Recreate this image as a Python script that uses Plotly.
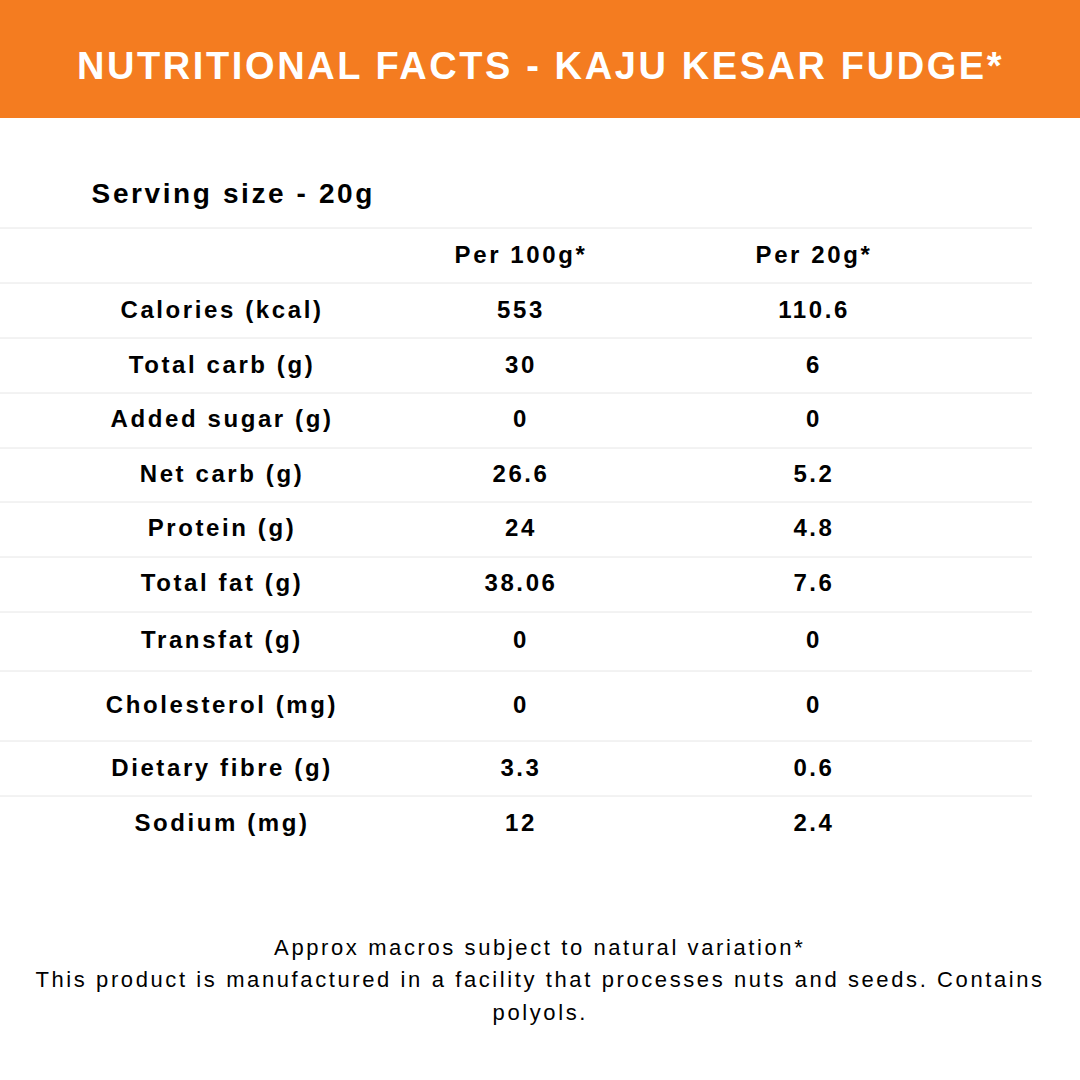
import plotly.graph_objects as go

title = "NUTRITIONAL FACTS - KAJU KESAR FUDGE*"
serving = "Serving size - 20g"
col_heads = ["", "Per 100g*", "Per 20g*"]
nutrients = ["Calories (kcal)", "Total carb (g)", "Added sugar (g)", "Net carb (g)", "Protein (g)",
             "Total fat (g)", "Transfat (g)", "Cholesterol (mg)", "Dietary fibre (g)", "Sodium (mg)"]
per100 = ["553", "30", "0", "26.6", "24", "38.06", "0", "0", "3.3", "12"]
per20 = ["110.6", "6", "0", "5.2", "4.8", "7.6", "0", "0", "0.6", "2.4"]
footer = ["Approx macros subject to natural variation*",
          "This product is manufactured in a facility that processes nuts and seeds. Contains",
          "polyols."]

# layout positions (pixels)
row_y = [312, 367, 421, 476, 530, 585, 642, 707, 770, 825]
rule_y = [228, 283, 338, 393, 448, 502, 557, 612, 671, 741, 796]
col_x = [222, 521, 814]
W = 1080

fig = go.Figure()
font = dict(family="Liberation Sans, Arial", size=24, color="black")
for cx, vals in zip(col_x, [nutrients, per100, per20]):
    fig.add_trace(go.Scatter(x=[cx] * len(vals), y=row_y, text=[f"<b>{v}</b>" for v in vals],
                             mode="text", textfont=font, hoverinfo="skip"))
fig.add_trace(go.Scatter(x=col_x[1:], y=[257, 257], text=[f"<b>{h}</b>" for h in col_heads[1:]],
                         mode="text", textfont=font, hoverinfo="skip"))

shapes = [dict(type="rect", x0=0, x1=W, y0=0, y1=118, fillcolor="#F47C20", line_width=0, layer="below")]
for y in rule_y:
    shapes.append(dict(type="line", x0=0, x1=1032, y0=y, y1=y, line=dict(color="#e6e6e6", width=1)))

ann = [dict(x=540, y=66, text=f"<b>{title}</b>", showarrow=False,
            font=dict(family="Liberation Sans, Arial", size=38, color="white")),
       dict(x=113, y=193, text=f"<b>{serving}</b>", showarrow=False, xanchor="left",
            font=dict(family="Liberation Sans, Arial", size=28, color="black"))]
for i, t in enumerate(footer):
    ann.append(dict(x=540, y=947 + 32.5 * i, text=t, showarrow=False,
                    font=dict(family="Liberation Sans, Arial", size=22, color="black")))

fig.update_layout(width=W, height=W, margin=dict(l=0, r=0, t=0, b=0), showlegend=False,
                  plot_bgcolor="white", paper_bgcolor="white", shapes=shapes, annotations=ann,
                  xaxis=dict(range=[0, W], visible=False, fixedrange=True),
                  yaxis=dict(range=[W, 0], visible=False, fixedrange=True))

# remove page margin and widen letter spacing like the original artwork
js = ("document.body.style.margin='0';"
      "document.querySelectorAll('text').forEach(function(t){t.style.letterSpacing='2.6px';});")
fig.write_html("out.html", config={"displayModeBar": False}, post_script=js)
